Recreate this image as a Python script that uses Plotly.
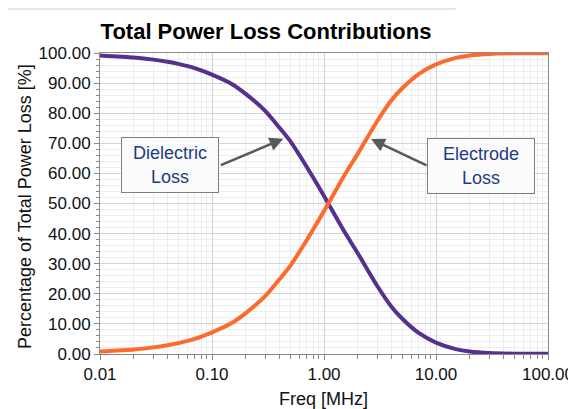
import plotly.graph_objects as go

# Frequency samples [MHz]
freq = [0.01, 0.02, 0.03, 0.04, 0.05, 0.07, 0.1, 0.15, 0.2, 0.3, 0.4, 0.5, 0.7, 1.0,
        1.5, 2.0, 3.0, 4.0, 5.0, 7.0, 10.0, 15.0, 20.0, 30.0, 50.0, 100.0]
# Electrode loss share [%]
electrode = [0.8, 1.5, 2.2, 2.9, 3.6, 5.0, 7.2, 10.3, 13.6, 19.3, 24.8, 29.3, 37.8, 47.5,
             59.0, 66.5, 77.5, 84.3, 88.3, 93.0, 96.2, 98.4, 99.2, 99.7, 99.9, 99.9]
# Dielectric loss share [%]
dielectric = [99.2, 98.5, 97.8, 97.1, 96.4, 95.0, 92.8, 89.7, 86.4, 80.7, 75.2, 70.7, 62.2, 52.5,
              41.0, 33.5, 22.5, 15.7, 11.7, 7.0, 3.8, 1.6, 0.8, 0.3, 0.1, 0.1]

x_ticks = [0.01, 0.1, 1, 10, 100]
x_ticktext = ["0.01", "0.10", "1.00", "10.00", "100.00"]

PURPLE = "#55308f"
ORANGE = "#fd6a2d"
FONT = "Liberation Sans, Arial, sans-serif"

# The page body adds an 8px offset; the figure is sized to fill the rest of the window.
OFF = 8
W, H = 576 - OFF, 409 - OFF

fig = go.Figure()
fig.add_trace(go.Scatter(x=freq, y=dielectric, mode="lines", name="Dielectric Loss",
                         line=dict(color=PURPLE, width=4, shape="spline", smoothing=0.6)))
fig.add_trace(go.Scatter(x=freq, y=electrode, mode="lines", name="Electrode Loss",
                         line=dict(color=ORANGE, width=4, shape="spline", smoothing=0.6)))

fig.update_layout(
    width=W, height=H,
    margin=dict(l=100 - OFF, r=576 - 548, t=53 - OFF, b=409 - 354, autoexpand=False),
    paper_bgcolor="white", plot_bgcolor="white",
    showlegend=False,
    font=dict(family=FONT, color="#111111"),
    title=dict(text="<b>Total Power Loss Contributions</b>", x=(266 - OFF) / W,
               xanchor="center", y=1 - (31 - OFF) / H, yanchor="middle",
               font=dict(size=22, color="#000000", family=FONT)),
)

fig.update_xaxes(
    type="log", range=[-2, 2], automargin=False,
    tickmode="array", tickvals=x_ticks, ticktext=x_ticktext,
    tickfont=dict(size=17, color="#111111"),
    ticks="outside", ticklen=5, tickcolor="#888888",
    showline=True, linecolor="#8a8a8a", linewidth=1, mirror=True,
    showgrid=True, gridcolor="#d4d4d4", gridwidth=1,
    minor=dict(dtick="D1", ticks="outside", ticklen=4, tickcolor="#888888",
               showgrid=True, gridcolor="#ededed", gridwidth=1),
    zeroline=False,
)
fig.update_yaxes(
    range=[0, 100], tickmode="linear", tick0=0, dtick=10, tickformat=".2f", automargin=False,
    tickfont=dict(size=17, color="#111111"),
    ticks="outside", ticklen=5, tickcolor="#888888",
    showline=True, linecolor="#8a8a8a", linewidth=1, mirror=True,
    showgrid=True, gridcolor="#d4d4d4", gridwidth=1,
    minor=dict(dtick=2, ticks="outside", ticklen=3, tickcolor="#888888",
               showgrid=True, gridcolor="#ededed", gridwidth=1),
    zeroline=False,
)

# Axis titles placed as annotations
fig.add_annotation(xref="paper", yref="paper", x=(25 - 100) / 448, y=(354 - 207) / 301,
                   text="Percentage of Total Power Loss [%]", textangle=-90, showarrow=False,
                   xanchor="center", yanchor="middle", font=dict(size=18, color="#111111"))
fig.add_annotation(xref="paper", yref="paper", x=(323 - 100) / 448, y=(354 - 399) / 301,
                   text="Freq [MHz]", showarrow=False,
                   xanchor="center", yanchor="middle", font=dict(size=18, color="#111111"))

TXT = "#1f3b84"
# Label boxes
fig.add_annotation(x=-1.375, y=62.75, xref="x", yref="y", text="Dielectric<br>Loss",
                   showarrow=False, font=dict(size=18, color=TXT, family=FONT),
                   bgcolor="#fbfbfb", bordercolor="#7f7f7f", borderwidth=1,
                   width=94, height=52, borderpad=1, align="center")
fig.add_annotation(x=1.406, y=62.4, xref="x", yref="y", text="Electrode<br>Loss",
                   showarrow=False, font=dict(size=18, color=TXT, family=FONT),
                   bgcolor="#fbfbfb", bordercolor="#7f7f7f", borderwidth=1,
                   width=104, height=52, borderpad=1, align="center")
# Arrows
fig.add_annotation(x=-0.363, y=71.5, xref="x", yref="y", text="", showarrow=True,
                   ax=-64, ay=27, arrowhead=2, arrowsize=1.1, arrowwidth=2.5,
                   arrowcolor="#595959")
fig.add_annotation(x=0.42, y=71.4, xref="x", yref="y", text="", showarrow=True,
                   ax=57, ay=27, arrowhead=2, arrowsize=1.1, arrowwidth=2.5,
                   arrowcolor="#595959")

# Frame fragment at the top of the picture
fig.add_shape(type="line", xref="paper", yref="paper",
              x0=(5 - 100) / 448, x1=(455 - 100) / 448, y0=(354 - 9) / 301, y1=(354 - 9) / 301,
              line=dict(color="#cccccc", width=1))
fig.add_shape(type="line", xref="paper", yref="paper",
              x0=(455 - 100) / 448, x1=(455 - 100) / 448, y0=(354 - 9) / 301, y1=354 / 301,
              line=dict(color="#cccccc", width=1))

fig.write_html("out.html")
